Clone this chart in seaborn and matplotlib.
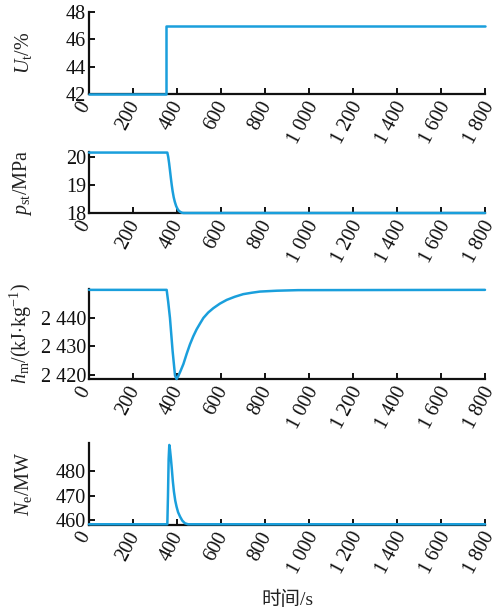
import matplotlib
matplotlib.use("Agg")
import matplotlib.pyplot as plt
import matplotlib.ticker as mticker
import matplotlib.transforms as mtransforms
import seaborn as sns
import pandas as pd

# time axis ticks
x_ticks = [0, 200, 400, 600, 800, 1000, 1200, 1400, 1600, 1800]

# U_t step (%)
t_u = [0, 352, 352, 1800]
u_t = [42.0, 42.0, 47.0, 47.0]

# main steam pressure p_st (MPa)
t_p = [0, 356, 360, 364, 368, 372, 376, 380, 385, 390, 396, 402, 408, 415, 422, 430, 1800]
p_st = [20.15, 20.15, 20.0, 19.78, 19.52, 19.25, 19.0, 18.78, 18.56, 18.40, 18.25, 18.15, 18.08, 18.04, 18.01, 18.0, 18.0]

# enthalpy h_m (kJ/kg)
t_h = [0, 353, 360, 368, 380, 391, 398, 405, 415, 429, 444, 459, 474, 489, 505, 520, 542,
       565, 595, 626, 663, 701, 740, 777, 853, 950, 1800]
h_m = [2449.7, 2449.7, 2445.5, 2439.9, 2428.4, 2419.8, 2418.6, 2419.5, 2421.2, 2423.8, 2427.4,
       2430.7, 2433.5, 2435.9, 2438.0, 2439.9, 2441.8, 2443.3, 2444.9, 2446.2, 2447.3, 2448.2,
       2448.7, 2449.1, 2449.4, 2449.6, 2449.7]

# electric power N_e (MW)
t_n = [0, 356, 359, 362, 365, 368, 372, 376, 381, 386, 392, 398, 405, 414, 424, 436, 450, 1800]
n_e = [458.3, 458.3, 470.0, 485.0, 490.8, 489.0, 485.5, 481.5, 476.0, 471.7, 468.0, 465.5, 463.2, 461.4, 459.8, 458.7, 458.3, 458.3]

y_labels = [r"$U_{\rm t}$/%", r"$p_{\rm st}$/MPa", r"$h_{\rm m}$/(kJ$\cdot$kg$^{-1}$)", r"$N_{\rm e}$/MW"]
y_ticks = [[42, 44, 46, 48], [18, 19, 20], [2420, 2430, 2440], [460, 470, 480]]
y_lims = [(42, 48), (18, 20.17), (2418.6, 2450.0), (458.2, 491.6)]
x_label = "时间/s"

sns.set_theme(style="ticks")
plt.rcParams["font.family"] = ["Liberation Serif", "Noto Sans CJK SC"]
plt.rcParams["mathtext.fontset"] = "custom"
plt.rcParams["mathtext.rm"] = "Liberation Serif"
plt.rcParams["mathtext.it"] = "Liberation Serif:italic"

line_color = "#1a9fdc"
W, H = 501, 613
fig = plt.figure(figsize=(W / 100, H / 100), dpi=100)
fig.patch.set_facecolor("white")

# panel extents in pixels (top, bottom)
panels = [(12, 94), (152, 213), (289, 379), (443, 524.5)]
left, right = 89, 485
fs = 14.5


def space_thousands(v, pos):
    s = f"{int(round(v)):d}"
    if len(s) > 3:
        s = s[:-3] + " " + s[-3:]
    return s


# nudge rotated time labels slightly to the left of their ticks
shift = mtransforms.ScaledTranslation(-5 / 100, 0, fig.dpi_scale_trans)

series = [(t_u, u_t), (t_p, p_st), (t_h, h_m), (t_n, n_e)]
for i, ((top, bot), (tt, vv)) in enumerate(zip(panels, series)):
    ax = fig.add_axes([left / W, 1 - bot / H, (right - left) / W, (bot - top) / H])
    df = pd.DataFrame({"t": tt, "v": vv})
    sns.lineplot(data=df, x="t", y="v", ax=ax, color=line_color, linewidth=1.8,
                 estimator=None, sort=False)
    for ln in ax.get_lines():
        ln.set_clip_on(False)
        ln.set_zorder(3)
    ax.set_xlim(0, 1800)
    ax.set_ylim(*y_lims[i])
    ax.set_xticks(x_ticks)
    ax.set_yticks(y_ticks[i])
    ax.xaxis.set_major_formatter(mticker.FuncFormatter(space_thousands))
    ax.yaxis.set_major_formatter(mticker.FuncFormatter(space_thousands))
    for s in ["top", "right"]:
        ax.spines[s].set_visible(False)
    for s in ["left", "bottom"]:
        ax.spines[s].set_linewidth(1.6)
        ax.spines[s].set_color("#111111")
    ax.tick_params(axis="both", direction="in", length=4, width=1.4, colors="#111111",
                   labelsize=fs, pad=2)
    ax.tick_params(axis="x", pad=3)
    for lab in ax.get_xticklabels():
        lab.set_rotation(62)
        lab.set_ha("center")
        lab.set_va("top")
        lab.set_transform(lab.get_transform() + shift)
    ax.set_xlabel("")
    ax.set_ylabel(y_labels[i], fontsize=fs, color="#222222")
    ax.yaxis.set_label_coords(-0.139, 0.5)
    ax.set_facecolor("white")
    ax.grid(False)

fig.text(287 / W, 1 - 600 / H, x_label, ha="center", va="center", fontsize=14, color="#222222")

fig.savefig("out.png", dpi=100, facecolor="white")
